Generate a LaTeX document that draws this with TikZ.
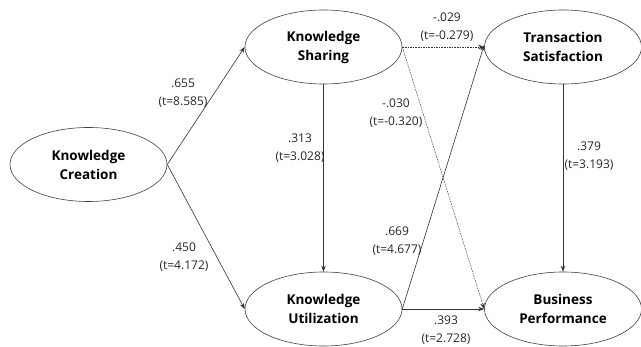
\documentclass[tikz,border=0pt]{standalone}
\usepackage{fontspec}
\setmainfont{Open Sans}
\usetikzlibrary{shapes.geometric,arrows.meta}
\begin{document}
\begin{tikzpicture}[x=1pt,y=-1pt,
  construct/.style={draw=black!75,line width=0.6pt,ellipse,minimum width=157pt,minimum height=74pt,inner sep=0pt,align=center,font=\fontsize{13.5}{19}\selectfont\bfseries},
  path/.style={draw=black!80,line width=0.6pt,-{Stealth[length=6pt,width=4.5pt]}},
  weak/.style={path,line width=0.45pt,dash pattern=on 1.6pt off 1pt},
  coef/.style={align=center,font=\fontsize{12}{17.5}\selectfont,text=black!85,inner sep=0pt}]
\useasboundingbox (0,0) rectangle (641,347);
\node[construct] (kc) at (88.5,164.5) {Knowledge\\Creation};
\node[construct] (ks) at (323.5,47) {Knowledge\\Sharing};
\node[construct] (ku) at (323.5,309) {Knowledge\\Utilization};
\node[construct] (ts) at (563,47) {Transaction\\Satisfaction};
\node[construct] (bp) at (563,309) {Business\\Performance};
\draw[path] (kc.east) -- (ks.west);
\draw[path] (kc.east) -- (ku.west);
\draw[path] (ks.south) -- (ku.north);
\draw[weak] (ks.east) -- (ts.west);
\draw[weak] (ks.east) -- (bp.west);
\draw[path] (ku.east) -- ([yshift=2pt]ts.west);
\draw[path] (ku.east) -- (bp.west);
\draw[path] (ts.south) -- (bp.north);
\node[coef] (l1) at (183,93) {.655\\(t=8.585)};
\node[coef] (l2) at (184,257) {.450\\(t=4.172)};
\node[coef] (l3) at (300,148) {.313\\(t=3.028)};
\node[coef] (l4) at (447,27) {-.029\\(t=-0.279)};
\node[coef] (l5) at (396,113) {-.030\\(t=-0.320)};
\node[coef] (l6) at (397,241) {.669\\(t=4.677)};
\node[coef] (l7) at (446,330) {.393\\(t=2.728)};
\node[coef] (l8) at (589,156) {.379\\(t=3.193)};
\end{tikzpicture}
\end{document}
